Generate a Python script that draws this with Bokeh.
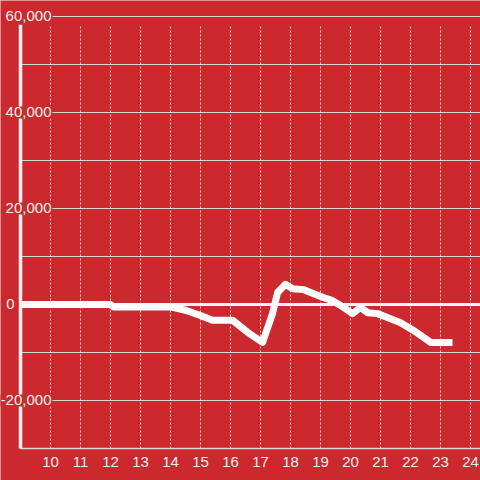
from bokeh.plotting import figure
from bokeh.models import Range1d, ColumnDataSource
from bokeh.core.properties import value
from bokeh.embed import file_html
from bokeh.resources import INLINE

# ---- data ----
hours = [9.0, 12.0, 12.1, 14.0, 14.5, 15.0, 15.4, 16.07, 16.57, 17.07, 17.4, 17.57,
         17.83, 18.07, 18.43, 18.67, 19.07, 19.4, 19.67, 20.07, 20.33, 20.57, 20.9,
         21.23, 21.67, 22.1, 22.4, 22.67, 23.4]
values = [0, 0, -500, -500, -1200, -2300, -3300, -3300, -5800, -7900, -1900, 2500,
          4200, 3300, 3100, 2500, 1500, 800, -200, -1900, -600, -1700, -1900,
          -2700, -3800, -5400, -6700, -7900, -7900]
x_ticks = list(range(10, 25))
y_grid = [-20000, -10000, 10000, 20000, 30000, 40000, 50000, 60000]
y_label_vals = [60000, 40000, 20000, 0, -20000]
y_label_text = ["60,000", "40,000", "20,000", "0", "-20,000"]

RED = "#cc292e"
LIGHT = "#eeeeee"
FONT = value("Liberation Sans")

X0, X1 = 8.3333, 24.3333
Y0, Y1 = -36667, 63333
AXIS_X = 9
Y_BOTTOM = -30000
Y_TOP = 58300

p = figure(width=480, height=480, x_range=Range1d(X0, X1), y_range=Range1d(Y0, Y1),
           min_border=0, toolbar_location=None, output_backend="svg",
           background_fill_color=RED, border_fill_color=RED, outline_line_color=None)
p.axis.visible = False
p.grid.visible = False

# horizontal gridlines
p.segment(x0=[AXIS_X] * len(y_grid), x1=[X1] * len(y_grid), y0=y_grid, y1=y_grid,
          line_color="#d8d8d8", line_width=1)
# bottom axis line
p.segment(x0=[AXIS_X], x1=[X1], y0=[Y_BOTTOM], y1=[Y_BOTTOM], line_color="#d8d8d8", line_width=1.5)
# vertical dotted gridlines
p.segment(x0=x_ticks, x1=x_ticks, y0=[Y_BOTTOM] * len(x_ticks), y1=[Y_TOP] * len(x_ticks),
          line_color="#e0e0e0", line_width=1, line_dash="2 2")
# zero line
p.segment(x0=[AXIS_X], x1=[X1], y0=[0], y1=[0], line_color="#f4f4f4", line_width=3)
# y axis line
p.segment(x0=[AXIS_X], x1=[AXIS_X], y0=[Y_BOTTOM], y1=[Y_TOP], line_color="#f4f4f4", line_width=3.5)

# data line
p.line(hours, values, line_color="white", line_width=7, line_join="round")

# y labels
offs = [-5 if v == 0 else 32 for v in y_label_vals]
src = ColumnDataSource(dict(x=[AXIS_X] * len(y_label_vals), y=y_label_vals,
                            t=y_label_text, o=offs))
p.text(x="x", y="y", text="t", x_offset="o", source=src, text_align="right",
       text_baseline="middle", text_font=FONT, text_font_size="15px", text_color=LIGHT,
       background_fill_color=RED, padding=1)

# x labels
p.text(x=x_ticks, y=[Y_BOTTOM] * len(x_ticks), text=[str(t) for t in x_ticks],
       y_offset=14, text_align="center", text_baseline="middle", text_font=FONT,
       text_font_size="15px", text_color=LIGHT)

open("out.html", "w").write(file_html(p, INLINE))
